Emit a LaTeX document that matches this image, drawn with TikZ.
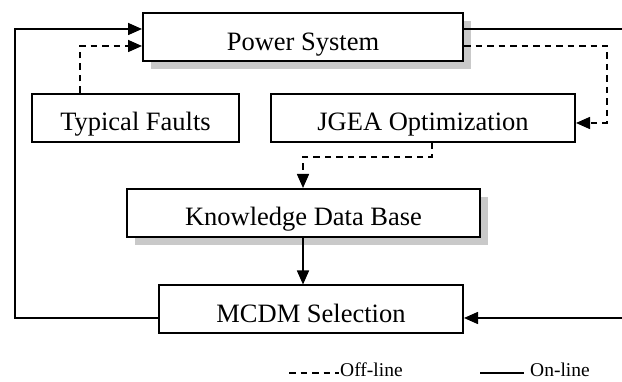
\documentclass[tikz,border=0pt]{standalone}
\usepackage{fontspec}
\setmainfont{Liberation Serif}
\usetikzlibrary{arrows.meta,shadows}

\tikzset{
  block/.style={draw, line width=2pt, fill=white, minimum height=48pt,
    text height=26pt, text depth=0pt, inner sep=0pt,
    font=\fontsize{26.5}{30}\selectfont},
  shadowed/.style={drop shadow={shadow xshift=8pt, shadow yshift=-8pt,
    fill=gray!42, opacity=1}},
  online/.style={line width=1.6pt},
  offline/.style={line width=1.6pt, dash pattern=on 6.5pt off 5pt},
  tip/.style={-{Triangle[length=14pt,width=12pt]}},
  legendtext/.style={inner sep=1pt, font=\fontsize{19.5}{22}\selectfont}
}

\begin{document}
\begin{tikzpicture}[x=1pt, y=-1pt]
  \useasboundingbox (0,0) rectangle (622,382);

  % blocks
  \node[block, shadowed, minimum width=320pt] (ps)   at (303,37.5)  {Power System};
  \node[block, minimum width=207pt]           (tf)   at (135.5,118) {Typical Faults};
  \node[block, minimum width=304pt]           (jgea) at (423,118)   {JGEA Optimization};
  \node[block, shadowed, minimum width=353pt] (kdb)  at (303.5,213) {Knowledge Data Base};
  \node[block, minimum width=304pt]           (mcdm) at (311,309.5) {MCDM Selection};

  % bend points and free ends of the connectors
  \coordinate (ltop) at (15,29);
  \coordinate (lbot) at (15,318);
  \coordinate (rtop) at (622,29);
  \coordinate (rbot) at (622,318);
  \coordinate (tfup) at (80,46);
  \coordinate (rd1)  at (607,46);
  \coordinate (rd2)  at (607,123);
  \coordinate (jd1)  at (432,157);
  \coordinate (jd2)  at (303,157);

  % on-line loop
  \draw[online, tip] (mcdm.west |- lbot) -- (lbot) -- (ltop) -- (ps.west |- ltop);
  \draw[online] (ps.east |- rtop) -- (rtop);
  \draw[online, tip] (rbot) -- (mcdm.east |- rbot);
  \draw[online, tip] (kdb.south -| jd2) -- (mcdm.north -| jd2);

  % off-line paths
  \draw[offline, tip] (tf.north -| tfup) -- (tfup) -- (ps.west |- tfup);
  \draw[offline, tip] (ps.east |- rd1) -- (rd1) -- (rd2) -- (jgea.east |- rd2);
  \draw[offline, tip] (jgea.south -| jd1) -- (jd1) -- (jd2) -- (kdb.north -| jd2);

  % legend
  \node[legendtext, anchor=base west] (offtxt) at (339,377) {Off-line};
  \node[legendtext, anchor=base west] (ontxt)  at (529,377) {On-line};
  \coordinate (offstart) at (289,373);
  \coordinate (onstart)  at (480,373);
  \draw[line width=1.4pt, dash pattern=on 6.5pt off 5pt] (offstart) -- (offtxt.west |- offstart);
  \draw[line width=1.4pt] (onstart) -- ([xshift=-5pt]ontxt.west |- onstart);
\end{tikzpicture}
\end{document}
